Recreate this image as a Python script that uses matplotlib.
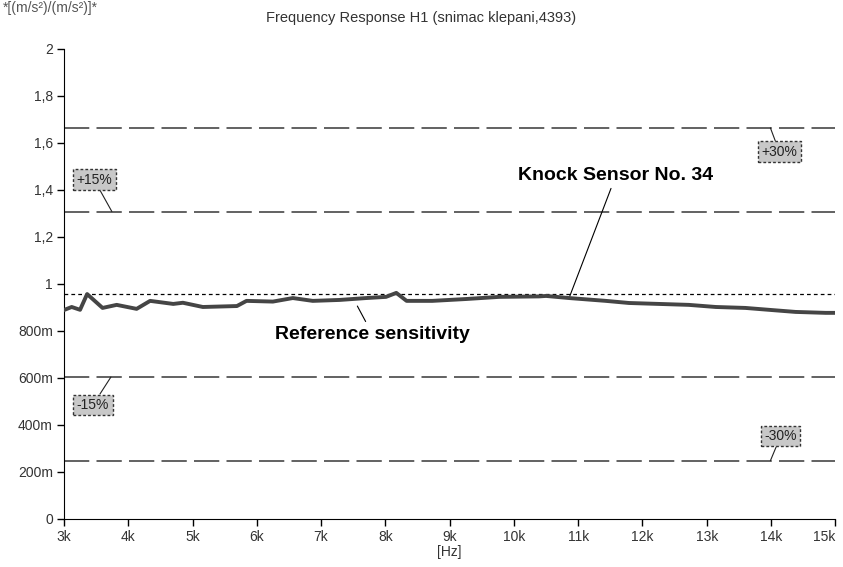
import matplotlib
matplotlib.use('Agg')
import matplotlib.pyplot as plt
import matplotlib.transforms as mtransforms

plt.rcParams['font.family'] = ['Liberation Sans', 'DejaVu Sans']

# frequency response of the knock sensor (kHz, ratio)
freq_khz = [3.0, 3.12, 3.25, 3.36, 3.6, 3.82, 4.13, 4.34, 4.7, 4.85, 5.16, 5.69,
            5.84, 6.25, 6.56, 6.87, 7.29, 7.7, 8.01, 8.17, 8.33, 8.73, 9.26, 9.77,
            10.39, 10.5, 10.86, 11.43, 11.79, 12.72, 13.14, 13.6, 14.01, 14.38,
            14.85, 15.0]
response = [0.889, 0.902, 0.89, 0.957, 0.898, 0.911, 0.894, 0.928, 0.915, 0.92, 0.902, 0.906,
            0.928, 0.925, 0.94, 0.928, 0.932, 0.94, 0.945, 0.962, 0.928, 0.928, 0.936, 0.945,
            0.947, 0.949, 0.94, 0.928, 0.919, 0.911, 0.902, 0.898, 0.889, 0.881,
            0.877, 0.877]

ref_sens = 0.956
tol_levels = [1.664, 1.308, 0.604, 0.248]
tol_labels = ['+30%', '+15%', '-15%', '-30%']
# label box centre and the point on the tolerance line the leader goes to
tol_text_pos = [(14.13, 1.562), (3.47, 1.443), (3.45, 0.485), (14.15, 0.353)]
tol_leader_x = [13.99, 3.745, 3.73, 13.99]

x_ticks = [3, 4, 5, 6, 7, 8, 9, 10, 11, 12, 13, 14, 15]
x_ticklabels = ['3k', '4k', '5k', '6k', '7k', '8k', '9k', '10k', '11k', '12k', '13k', '14k', '15k']
y_ticks = [0, 0.2, 0.4, 0.6, 0.8, 1.0, 1.2, 1.4, 1.6, 1.8, 2.0]
y_ticklabels = ['0', '200m', '400m', '600m', '800m', '1', '1,2', '1,4', '1,6', '1,8', '2']

fig = plt.figure(figsize=(8.43, 5.67), dpi=100)
ax = fig.add_axes([0.0759, 0.0847, 0.915, 0.829])

# tolerance lines
for lvl in tol_levels:
    ax.axhline(lvl, color='#555555', lw=1.3, dashes=(14, 4), zorder=1)
ax.axhline(ref_sens, color='black', lw=0.9, dashes=(3, 2.5), zorder=1)

ax.plot(freq_khz, response, color='#454545', lw=2.8, zorder=3)

for lbl, (tx, ty), lx, lvl in zip(tol_labels, tol_text_pos, tol_leader_x, tol_levels):
    ax.annotate(lbl, xy=(lx, lvl), xytext=(tx, ty), ha='center', va='center',
                fontsize=10, color='#222222',
                bbox=dict(boxstyle='square,pad=0.25', fc='#c8c8c8', ec='#333333',
                          ls=(0, (2, 1.5)), lw=1),
                arrowprops=dict(arrowstyle='-', color='#222222', lw=0.8,
                                shrinkA=0, shrinkB=0))

ax.annotate('Knock Sensor No. 34', xy=(10.87, 0.949), xytext=(11.585, 1.46),
            ha='center', va='center', fontsize=14, fontweight='bold',
            arrowprops=dict(arrowstyle='-', color='black', lw=0.8, shrinkA=1, shrinkB=0))
ax.annotate('Reference sensitivity', xy=(7.564, 0.906), xytext=(7.797, 0.787),
            ha='center', va='center', fontsize=14, fontweight='bold',
            arrowprops=dict(arrowstyle='-', color='black', lw=0.8, shrinkA=1, shrinkB=0))

ax.set_xlim(3, 15)
ax.set_ylim(0, 2)
ax.set_xticks(x_ticks)
ax.set_xticklabels(x_ticklabels)
ax.set_yticks(y_ticks)
ax.set_yticklabels(y_ticklabels)
ax.tick_params(labelsize=10, labelcolor='#333333', length=5, width=1, pad=3)
ax.spines['top'].set_visible(False)
ax.spines['right'].set_visible(False)
ax.set_xlabel('[Hz]', fontsize=10, color='#333333', labelpad=1)

# last x label sits left of its tick so it stays inside the picture
last = ax.get_xticklabels()[-1]
last.set_transform(last.get_transform() +
                   mtransforms.ScaledTranslation(-8 / 72, 0, fig.dpi_scale_trans))

fig.text(0.5, 0.968, 'Frequency Response H1 (snimac klepani,4393)', ha='center',
         va='center', fontsize=10.5, color='#333333')
fig.text(0.003, 0.986, '*[(m/s²)/(m/s²)]*', ha='left', va='center',
         fontsize=10, color='#555555')

fig.savefig('out.png', dpi=100)
